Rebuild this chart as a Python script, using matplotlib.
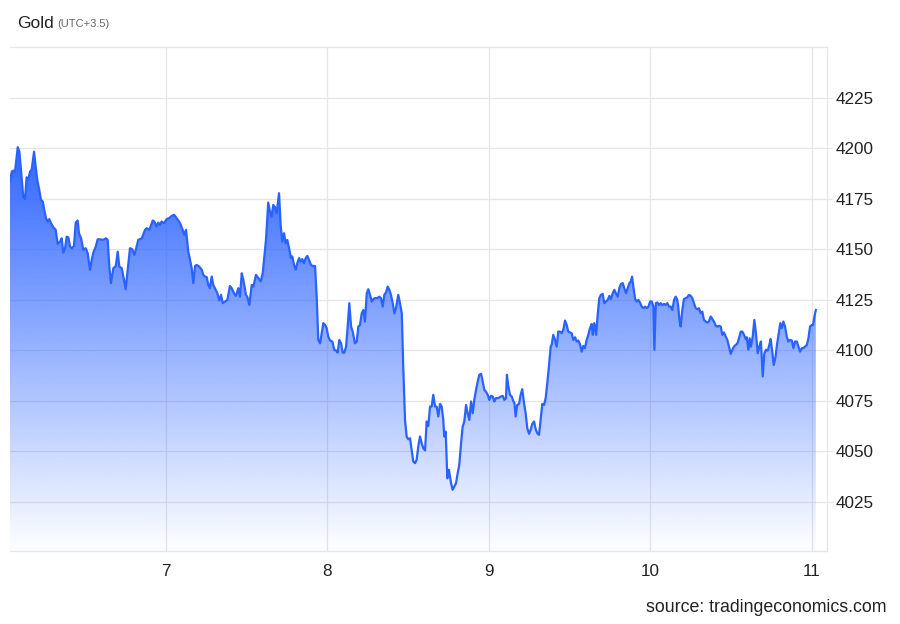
import numpy as np
import matplotlib
matplotlib.use("Agg")
import matplotlib.pyplot as plt
from matplotlib.patches import PathPatch
from matplotlib.path import Path

# ---- data (day of month, price) ----
times = [
6.034,6.045,6.054,6.065,6.082,6.092,6.102,6.116,6.127,6.137,6.147,6.158,6.168,6.183,6.193,6.203,6.215,6.226,6.237,6.246,
6.257,6.267,6.277,6.288,6.302,6.317,6.329,6.344,6.354,6.364,6.375,6.385,6.395,6.406,6.416,6.430,6.441,6.453,6.461,6.474,
6.488,6.503,6.515,6.529,6.540,6.550,6.565,6.577,6.591,6.606,6.618,6.628,6.639,6.649,6.659,6.674,6.689,6.701,6.711,6.726,
6.740,6.750,6.763,6.777,6.791,6.804,6.814,6.828,6.850,
6.870,6.880,6.897,6.918,6.928,6.942,6.952,6.963,6.973,6.988,7.004,7.020,7.035,7.050,7.066,7.087,7.103,7.113,7.124,7.138,
7.149,7.159,7.169,7.180,7.190,7.206,7.221,7.231,7.241,7.252,7.262,7.272,7.283,7.293,7.303,7.318,7.330,7.341,7.351,7.365,
7.380,7.396,7.407,7.421,7.433,7.448,7.458,7.469,7.479,7.495,7.503,7.516,7.531,7.541,7.557,7.572,7.586,7.599,7.607,7.619,
7.633,7.644,7.654,7.664,7.675,7.685,7.700,
7.710,7.720,7.731,7.741,7.751,7.762,7.774,7.782,7.793,7.803,7.813,7.824,7.834,7.844,7.854,7.865,7.875,7.885,7.898,7.908,
7.923,7.933,7.943,7.954,7.964,7.974,7.985,7.995,8.005,8.016,8.030,8.042,8.053,8.063,8.073,8.084,8.094,8.104,8.115,8.125,
8.135,8.146,8.156,8.170,8.181,8.191,8.201,8.212,8.222,8.232,8.243,8.253,8.263,8.274,8.284,8.294,8.308,8.321,8.331,8.342,
8.352,8.362,8.373,8.383,8.393,8.404,8.414,8.424,8.438,8.449,8.460,8.469,
8.480,8.490,8.500,8.511,8.521,8.531,8.542,8.552,8.562,8.573,8.583,8.593,8.604,8.614,8.624,8.635,8.645,8.655,8.666,8.676,
8.686,8.697,8.707,8.717,8.723,8.732,8.742,8.752,8.765,8.775,8.785,8.796,8.806,8.816,8.827,8.837,8.847,8.858,8.868,8.878,
8.889,8.899,8.909,8.920,8.930,8.940,8.951,8.961,8.971,8.981,8.992,9.002,9.012,9.023,9.033,9.043,9.058,9.074,9.085,9.095,
9.105,9.111,9.120,9.130,9.141,9.151,9.157,9.165,9.175,9.186,9.196,9.206,9.217,9.227,9.237,9.248,9.258,9.268,9.279,9.289,
9.299,9.310,9.320,9.330,9.341,9.351,9.361,9.372,9.382,
9.388,9.398,9.409,9.419,9.429,9.440,9.450,9.460,9.471,9.481,9.491,9.502,9.512,9.522,9.533,9.543,9.553,9.563,9.574,9.584,
9.594,9.605,9.615,9.625,9.636,9.642,9.652,9.663,9.673,9.683,9.693,9.704,9.714,9.724,9.735,9.745,9.755,9.766,9.776,9.786,
9.797,9.807,9.817,9.828,9.838,9.848,9.859,9.869,9.878,9.886,9.894,9.905,9.915,9.925,9.935,9.946,9.956,9.966,9.977,9.987,
9.998,10.008,10.018,10.024,10.033,10.043,10.053,10.063,10.073,10.084,10.094,10.104,10.115,10.125,10.135,10.146,10.156,10.166,
10.172,10.179,10.187,10.197,10.207,10.218,10.228,10.238,10.249,10.259,10.269,10.280,10.290,10.300,10.311,10.321,10.331,10.342,
10.352,10.362,10.373,10.383,10.393,10.404,10.414,10.424,10.435,10.445,10.455,10.466,10.476,10.486,10.497,10.507,10.517,10.528,
10.538,10.548,10.559,10.569,10.579,10.590,10.596,10.606,10.614,10.622,10.633,10.643,10.653,10.664,10.674,10.684,10.695,10.705,
10.715,10.726,10.736,10.744,10.754,10.763,10.773,10.783,10.794,10.804,10.813,10.823,10.833,10.844,10.854,10.864,10.875,10.885,
10.895,10.906,10.916,10.926,10.937,10.947,10.957,10.968,10.978,10.988,10.999,11.007,11.015,11.024,
]
prices = [
4183.6,4188.5,4189.0,4188.5,4200.6,4198.4,4189.4,4176.0,4175.0,4185.7,4184.4,4188.5,4189.4,4198.4,4191.0,4184.4,4179.5,4174.5,4173.7,4169.6,
4165.4,4163.8,4165.0,4163.0,4161.0,4159.7,4152.7,4153.9,4155.5,4148.4,4150.6,4156.3,4156.0,4151.4,4150.6,4151.7,4163.3,4164.3,4158.0,4155.5,
4149.8,4150.6,4148.1,4139.9,4144.8,4148.4,4151.4,4155.0,4155.0,4154.7,4155.0,4155.5,4154.7,4141.5,4133.3,4140.7,4141.8,4148.9,4141.5,4140.7,
4134.9,4130.3,4139.9,4150.6,4150.1,4147.3,4150.1,4154.7,4155.5,
4159.7,4160.5,4159.7,4164.3,4163.8,4161.3,4163.3,4162.1,4163.8,4163.0,4165.0,4165.5,4166.6,4167.1,4165.5,4163.0,4159.7,4157.2,4159.7,4148.9,
4144.8,4140.7,4133.3,4141.8,4142.3,4141.5,4139.9,4137.4,4136.6,4136.3,4132.4,4130.8,4136.6,4132.4,4130.8,4128.3,4124.7,4127.5,4123.4,4124.2,
4125.0,4131.9,4130.8,4128.3,4127.0,4130.8,4126.6,4138.2,4134.9,4127.5,4126.6,4122.5,4132.4,4131.6,4137.4,4135.8,4134.1,4138.2,4144.8,4154.7,
4173.2,4168.7,4166.2,4172.0,4170.9,4168.0,4177.8,
4162.1,4153.9,4158.0,4153.0,4154.7,4150.6,4145.7,4146.5,4142.3,4139.9,4143.2,4145.7,4144.0,4145.2,4143.2,4145.7,4146.8,4144.8,4142.3,4141.8,
4141.8,4126.6,4105.2,4103.5,4108.5,4113.5,4112.6,4111.0,4106.8,4104.9,4104.4,4100.3,4099.9,4098.9,4105.2,4103.5,4098.9,4098.9,4101.9,4111.8,
4123.4,4111.8,4109.3,4103.5,4104.4,4111.8,4112.6,4118.4,4120.0,4114.3,4128.3,4130.3,4127.5,4124.2,4125.4,4125.9,4125.9,4126.6,4125.9,4121.7,
4127.5,4128.7,4131.6,4130.0,4127.5,4123.4,4118.4,4120.9,4127.5,4123.4,4118.4,4092.0,
4065.6,4057.4,4056.0,4056.5,4050.8,4045.0,4044.2,4045.8,4052.4,4057.4,4054.1,4051.6,4050.5,4064.8,4062.6,4072.2,4072.2,4078.0,4072.2,4072.2,
4067.3,4073.5,4072.2,4065.6,4057.4,4059.8,4036.7,4040.9,4034.3,4031.0,4032.6,4034.3,4039.2,4043.3,4054.1,4062.3,4064.8,4073.0,4068.9,4065.6,
4074.7,4068.9,4075.5,4080.5,4084.6,4087.9,4088.4,4084.6,4080.5,4079.6,4078.0,4075.5,4077.5,4077.2,4074.7,4076.4,4076.4,4077.2,4077.5,4075.5,
4076.4,4087.9,4082.1,4078.0,4077.2,4074.7,4074.2,4067.3,4073.0,4073.5,4078.0,4080.8,4073.9,4068.9,4061.5,4058.7,4060.7,4063.6,4064.8,4061.0,
4059.0,4058.2,4065.6,4073.5,4073.0,4076.4,4083.8,4092.8,4101.9,
4102.7,4107.7,4105.2,4101.9,4109.3,4109.3,4108.5,4110.2,4114.8,4112.6,4109.3,4108.9,4108.5,4105.2,4106.5,4104.4,4104.9,4103.2,4099.4,4102.2,
4101.1,4105.2,4107.7,4111.0,4113.1,4107.7,4113.5,4107.7,4117.6,4125.9,4127.5,4128.0,4123.4,4124.2,4125.0,4127.0,4125.4,4128.3,4130.0,4128.3,
4126.6,4130.8,4132.9,4133.3,4130.8,4128.3,4130.8,4133.3,4134.1,4136.5,4131.6,4125.4,4124.2,4125.0,4123.7,4121.7,4120.9,4121.7,4120.9,4121.7,
4124.2,4124.2,4121.7,4100.3,4123.4,4123.7,4122.5,4123.4,4122.5,4123.0,4122.5,4123.4,4121.7,4121.7,4120.0,4125.0,4126.6,4125.0,
4121.7,4115.1,4111.8,4120.0,4125.4,4125.9,4126.3,4127.5,4127.0,4125.9,4123.4,4120.9,4120.4,4120.9,4118.4,4119.2,4115.1,4114.3,
4113.8,4114.3,4116.8,4115.5,4114.3,4112.2,4111.8,4112.2,4111.8,4107.7,4108.9,4106.8,4105.2,4101.9,4098.3,4100.3,4101.9,4102.7,
4103.5,4106.0,4109.3,4109.3,4107.7,4105.6,4106.5,4100.3,4106.0,4101.9,4106.8,4115.1,4108.5,4098.6,4101.9,4104.4,4087.1,4098.6,
4100.3,4099.9,4102.7,4105.6,4099.4,4092.8,4096.2,4102.7,4108.5,4113.5,4111.0,4114.3,4111.8,4106.8,4104.4,4105.2,4104.9,4101.1,
4104.4,4104.4,4101.9,4099.4,4101.1,4101.1,4101.9,4102.7,4106.0,4111.8,4112.6,4112.6,4116.8,4120.0,
]
x_ticks = [7, 8, 9, 10, 11]
x_tick_labels = ["7", "8", "9", "10", "11"]
y_ticks = [4025, 4050, 4075, 4100, 4125, 4150, 4175, 4200, 4225]
title_main = "Gold"
title_sub = "(UTC+3.5)"
source_text = "source: tradingeconomics.com"

plt.rcParams['font.family'] = ['Liberation Sans', 'DejaVu Sans']

LINE = "#2962ff"
GRID = "#e6e6e6"
x = np.array(times)
y = np.array(prices)

fig = plt.figure(figsize=(9, 6.24), dpi=100)
ax = fig.add_axes([10/900, 1-551/624, 817/900, 504/624])
ymin, ymax = 4000.7, 4250.2
xmin, xmax = 6.034, 11.093
ax.set_xlim(xmin, xmax)
ax.set_ylim(ymin, ymax)

# gradient fill under line, clipped to the area polygon
verts = np.vstack([np.column_stack([x, y]),
                   [[x[-1], ymin], [x[0], ymin], [x[0], y[0]]]])
codes = [Path.MOVETO] + [Path.LINETO] * (len(verts) - 2) + [Path.CLOSEPOLY]
path = Path(verts, codes)
patch = PathPatch(path, facecolor="none", edgecolor="none", transform=ax.transData)
ax.add_patch(patch)
n = 256
grad = np.zeros((n, 1, 4))
grad[:, 0, 0:3] = matplotlib.colors.to_rgb(LINE)
yy = np.linspace(ymax, ymin, n)
grad[:, 0, 3] = np.clip((yy - 4000) / 190.0, 0.02, 1.0) * 0.92
im = ax.imshow(grad, aspect="auto", extent=[xmin, xmax, ymin, ymax], origin="upper",
               zorder=1, interpolation="bilinear")
im.set_clip_path(patch)

ax.plot(x, y, color=LINE, lw=1.6, zorder=3, solid_joinstyle="round")

# axes styling
ax.set_yticks(y_ticks)
ax.set_xticks(x_ticks)
ax.set_xticklabels(x_tick_labels)
ax.grid(True, color=GRID, lw=0.9, zorder=0)
ax.set_axisbelow(True)
ax.yaxis.tick_right()
ax.tick_params(axis="y", length=4, color=GRID, pad=2, labelsize=12.3, labelcolor="#222222")
ax.tick_params(axis="x", length=0, pad=9, labelsize=12.3, labelcolor="#222222")
ax.spines["left"].set_visible(False)
for s in ["top", "right", "bottom"]:
    ax.spines[s].set_color(GRID)
    ax.spines[s].set_linewidth(0.9)

fig.text(17/900, 1-23/624, title_main, fontsize=12.5, color="#222222", va="center", ha="left")
fig.text(57/900, 1-24/624, title_sub, fontsize=8, color="#666666", va="center", ha="left")
fig.text(887/900, 1-608/624, source_text, fontsize=12.8, color="#222222", va="center", ha="right")

fig.savefig("out.png", dpi=100)
